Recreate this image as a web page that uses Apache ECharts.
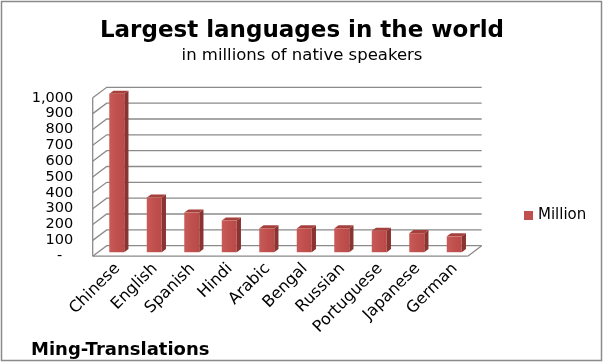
<!DOCTYPE html>
<html><head><meta charset="utf-8">
<script src="https://cdn.jsdelivr.net/npm/echarts@6/dist/echarts.min.js"></script>
<style>html,body{margin:0;padding:0;background:#fff}#c{width:604px;height:364px}</style>
</head><body><div id="c"></div>
<script>
// ---- data ----
const categories = ['Chinese','English','Spanish','Hindi','Arabic','Bengal','Russian','Portuguese','Japanese','German'];
const seriesName = 'Million';
const values = [1000, 345, 250, 200, 150, 150, 150, 135, 120, 100];
const yTicks = [0, 100, 200, 300, 400, 500, 600, 700, 800, 900, 1000];
const titleText = 'Largest languages in the world';
const subtitleText = 'in millions of native speakers';
const creditText = 'Ming-Translations';

// ---- styling / 3D projection ----
const FONT = '"DejaVu Sans", Verdana, sans-serif';
const DX = 14, DY = 10.5;           // depth offset of the walls (front -> back)
const BAR_D0 = 0.38, BAR_D1 = 0.68; // bar front / back depth fraction
const GRID_LINE = '#8a8a8a';
function proj(p, d) { return [p[0] + DX * d, p[1] - DY * d]; }

const GRID = { left: 92.7, top: 97.8, width: 375, height: 158.4 };

const chart = echarts.init(document.getElementById('c'), null, { renderer: 'canvas' });

function wallItem(params, api) {
  const v = api.value(1);
  const band = api.size([1, 0])[0];
  const pL = api.coord([0, v]);
  const pR = api.coord([categories.length - 1, v]);
  const left = pL[0] - band / 2, right = pR[0] + band / 2, y = pL[1];
  const fl = [left, y], bl = proj(fl, 1), br = proj([right, y], 1);
  const children = [{
    type: 'polyline', shape: { points: [fl, bl, br] },
    style: { stroke: GRID_LINE, lineWidth: 1.3, fill: null }
  }];
  if (v === 0) {
    const top = api.coord([0, yTicks[yTicks.length - 1]])[1];
    children.push({ type: 'polyline', shape: { points: [[right, y], br] }, style: { stroke: GRID_LINE, lineWidth: 1.3, fill: null } });
    children.push({ type: 'line', shape: { x1: left, y1: y, x2: right, y2: y }, style: { stroke: GRID_LINE, lineWidth: 1.3 } });
    children.push({ type: 'line', shape: { x1: left, y1: y, x2: left, y2: top }, style: { stroke: GRID_LINE, lineWidth: 1.3 } });
  }
  return { type: 'group', children };
}

function barItem(params, api) {
  const i = api.value(0), v = api.value(1);
  const band = api.size([1, 0])[0];
  const w = band * 0.4;
  const p0 = api.coord([i, 0]), p1 = api.coord([i, v]);
  const a = proj([p0[0] - w / 2, p1[1]], BAR_D0);   // front top-left
  const b = proj([p0[0] + w / 2, p1[1]], BAR_D0);   // front top-right
  const c = proj([p0[0] + w / 2, p0[1]], BAR_D0);   // front bottom-right
  const dd = BAR_D1 - BAR_D0;
  const b2 = proj(b, dd), a2 = proj(a, dd), c2 = proj(c, dd);
  return {
    type: 'group', children: [
      { type: 'polygon', shape: { points: [b, b2, c2, c] }, style: { fill: '#8a3431' } },
      { type: 'polygon', shape: { points: [a, b, b2, a2] }, style: { fill: '#a5403d' } },
      { type: 'rect', shape: { x: a[0], y: a[1], width: b[0] - a[0], height: c[1] - a[1] },
        style: { fill: new echarts.graphic.LinearGradient(0, 0, 1, 0, [
          { offset: 0, color: '#c85a57' }, { offset: 0.5, color: '#c0504d' }, { offset: 1, color: '#b84a47' }]) } }
    ]
  };
}

chart.setOption({
  animation: false,
  backgroundColor: '#fff',
  grid: [
    GRID,
    { left: GRID.left + 6, top: GRID.top, width: GRID.width, height: GRID.height }
  ],
  xAxis: [
    { type: 'category', gridIndex: 0, data: categories, axisLine: { show: false }, axisTick: { show: false }, axisLabel: { show: false } },
    { type: 'category', gridIndex: 1, data: categories, axisLine: { show: false }, axisTick: { show: false },
      axisLabel: { rotate: 45, margin: 10, interval: 0, hideOverlap: false, color: '#000', fontSize: 16, fontFamily: FONT } }
  ],
  yAxis: [
    { type: 'value', gridIndex: 0, min: 0, max: 1000, interval: 100,
      axisLine: { show: false }, axisTick: { show: false }, splitLine: { show: false },
      axisLabel: { margin: 19.4, color: '#000', fontSize: 14.5, fontFamily: FONT,
        formatter: v => v === 0 ? '{z|-}' : v.toLocaleString('en-US'),
        rich: { z: { padding: [0, 11, 0, 0], fontSize: 14.5, fontFamily: FONT, color: '#000' } } } },
    { type: 'value', gridIndex: 1, min: 0, max: 1000, show: false }
  ],
  legend: {
    left: 524, top: 208, padding: 0, icon: 'rect', itemWidth: 9, itemHeight: 9, itemGap: 5,
    textStyle: { fontSize: 15, fontFamily: FONT, color: '#000' },
    data: [{ name: seriesName, itemStyle: { color: '#c0504d' } }]
  },
  graphic: [
    { type: 'rect', shape: { x: 1.5, y: 1.5, width: 600, height: 359 }, style: { fill: null, stroke: '#8a8a8a', lineWidth: 1.5 }, z: 100 },
    { type: 'text', x: 302, y: 31, style: { text: titleText, textAlign: 'center', textVerticalAlign: 'middle', font: 'bold 23px ' + FONT, fill: '#000' } },
    { type: 'text', x: 302, y: 56, style: { text: subtitleText, textAlign: 'center', textVerticalAlign: 'middle', font: '16.5px ' + FONT, fill: '#000' } },
    { type: 'text', x: 31, y: 350, style: { text: creditText, textAlign: 'left', textVerticalAlign: 'middle', font: 'bold 18px ' + FONT, fill: '#000' } }
  ],
  series: [
    { type: 'custom', name: '_walls', xAxisIndex: 0, yAxisIndex: 0, clip: false, silent: true, z: 1,
      renderItem: wallItem, data: yTicks.map(v => [0, v]) },
    { type: 'custom', name: seriesName, xAxisIndex: 0, yAxisIndex: 0, clip: false, z: 2,
      itemStyle: { color: '#c0504d' },
      renderItem: barItem, data: values.map((v, i) => [i, v]) }
  ]
});
</script>
</body></html>
